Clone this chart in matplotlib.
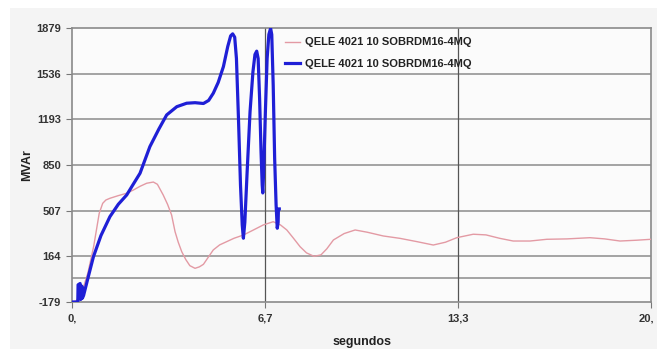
import matplotlib.pyplot as plt
from matplotlib.patches import Rectangle
from matplotlib.transforms import ScaledTranslation

plt.rcParams['font.family'] = ['Liberation Sans', 'DejaVu Sans']

# time axis (s) and reactive power (MVAr)
t_pink = [0, 0.15, 0.35, 0.55, 0.75, 0.94, 1.06, 1.17, 1.31, 1.6,
          1.89, 2.12, 2.35, 2.58, 2.81, 2.95, 3.15, 3.3, 3.44, 3.56,
          3.67, 3.79, 3.93, 4.07, 4.25, 4.4, 4.54, 4.7, 4.88, 5.1,
          5.34, 5.6, 5.92, 6.25, 6.61, 6.95, 7.2, 7.42, 7.65, 7.88,
          8.1, 8.36, 8.6, 8.8, 9.03, 9.4, 9.78, 10.2, 10.75, 11.33,
          11.9, 12.48, 12.9, 13.29, 13.86, 14.3, 14.78, 15.24, 15.82, 16.4,
          17.1, 17.89, 18.4, 18.93, 19.5, 20.0]
q_pink = [-179, -170, -100, 40, 240, 487, 562, 587, 600, 620,
          638, 662, 690, 713, 722, 705, 625, 555, 475, 349,
          270, 199, 140, 94, 74, 85, 104, 155, 212, 250,
          274, 300, 324, 360, 400, 424, 400, 362, 300, 236,
          190, 164, 175, 220, 287, 335, 362, 345, 317, 299,
          275, 249, 270, 304, 330, 325, 299, 279, 279, 292,
          295, 304, 295, 279, 285, 292]

t_blue = [0, 0.2, 0.21, 0.28, 0.3, 0.33, 0.34, 0.36, 0.4, 0.55,
          0.74, 1.0, 1.31, 1.6, 1.89, 2.1, 2.35, 2.69, 3.0, 3.27,
          3.62, 3.96, 4.25, 4.54, 4.72, 4.88, 5.05, 5.23, 5.38, 5.48,
          5.55, 5.62, 5.68, 5.75, 5.82, 5.88, 5.92, 5.97, 6.05, 6.15,
          6.25, 6.32, 6.38, 6.43, 6.48, 6.53, 6.57, 6.59, 6.62, 6.68,
          6.74, 6.8, 6.86, 6.9, 6.95, 7.0, 7.05, 7.09, 7.12, 7.13, 7.16]
q_blue = [-179, -179, -50, -40, -160, -150, -60, -150, -130, 0,
          161, 320, 462, 555, 625, 700, 788, 988, 1120, 1226,
          1288, 1314, 1318, 1312, 1335, 1389, 1470, 1589, 1740, 1820,
          1835, 1810, 1650, 1200, 700, 400, 300, 420, 800, 1250,
          1550, 1680, 1705, 1650, 1350, 950, 700, 640, 800, 1250,
          1650, 1830, 1877, 1830, 1450, 900, 550, 375, 420, 520, 520]

yticks = [-179, 164, 507, 850, 1193, 1536, 1879]
xticks = [0, 20 / 3, 40 / 3, 20]
xlabels = ['0,', '6,7', '13,3', '20,']
label = 'QELE 4021 10 SOBRDM16-4MQ'

fig = plt.figure(figsize=(6.57, 3.49), dpi=100, facecolor='white')
fig.add_artist(Rectangle((10 / 657, 0), 1, 1 - 8 / 349, transform=fig.transFigure,
                         facecolor='#f4f4f4', edgecolor='none', zorder=-10))
ax = fig.add_axes([72 / 657, 47 / 349, 579 / 657, 274 / 349])
ax.set_facecolor('#fbfbfb')

for y in yticks[1:-1] + [0]:
    ax.axhline(y, color='#9c9c9c', lw=1.3, zorder=1)
for x in xticks[1:-1]:
    ax.axvline(x, color='#555555', lw=0.9, zorder=1)

ax.plot(t_pink, q_pink, color='#e39aa4', lw=1.0, label=label, zorder=3)
ax.plot(t_blue, q_blue, color='#1f1fd6', lw=2.3, label=label, zorder=4)

ax.set_xlim(0, 20)
ax.set_ylim(-179, 1879)
ax.set_yticks(yticks)
ax.set_yticklabels([str(v) for v in yticks])
ax.set_xticks(xticks)
ax.set_xticklabels(xlabels)
ax.tick_params(axis='both', labelsize=8, length=4, color='#777777', pad=4)
for lab in ax.get_xticklabels() + ax.get_yticklabels():
    lab.set_fontweight('bold')
    lab.set_color('#333333')
# last x label sits at the right edge, nudge it in a little
last = ax.get_xticklabels()[-1]
last.set_transform(last.get_transform() + ScaledTranslation(-5 / 100, 0, fig.dpi_scale_trans))
for s in ax.spines.values():
    s.set_color('#8a8a8a')
    s.set_linewidth(1.2)

ax.set_xlabel('segundos', fontsize=9, fontweight='bold', color='#222222')
ax.set_ylabel('MVAr', fontsize=9, fontweight='bold', color='#222222')
ax.xaxis.set_label_coords((362 - 72) / 579, -0.125)
ax.yaxis.set_label_coords((33 - 72) / 579, (302 - 165) / 274)

leg = ax.legend(loc='upper left', bbox_to_anchor=((281 - 72) / 579, 1 - 5 / 274),
                frameon=False, fontsize=8, handlelength=1.3, handletextpad=0.5,
                labelspacing=1.0, borderaxespad=0)
for txt in leg.get_texts():
    txt.set_fontweight('bold')
    txt.set_color('#222222')

fig.savefig('out.png', dpi=100, facecolor=fig.get_facecolor())
